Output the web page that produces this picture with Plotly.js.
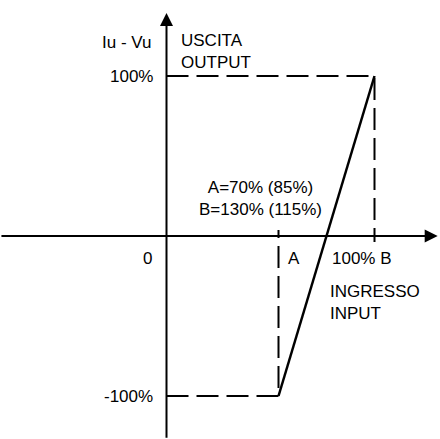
<!DOCTYPE html>
<html>
<head>
<meta charset="utf-8">
<script src="https://cdn.plot.ly/plotly-3.0.1.min.js"></script>
<style>html,body{margin:0;padding:0;background:#fff;}#chart{width:440px;height:439px;}</style>
</head>
<body>
<div id="chart"></div>
<script>
// Data (percent of nominal)
var inputPoints = [70, 130];     // A, B
var outputPoints = [-100, 100];  // output at A, at B
var inputLabels = ["A", "100% B"];
var outputLabels = ["-100%", "100%"];

var A = inputPoints[0], B = inputPoints[1];
var OMIN = outputPoints[0], OMAX = outputPoints[1];
var W = 440, H = 439;
var FONT = "Liberation Sans, Arial, sans-serif";

function px(xp){ return xp / W; }
function py(yp){ return 1 - yp / H; }

var dashStyle = {color: "#000", width: 2, dash: "22px,8px"};

var traces = [
  {x: [0, B, B], y: [OMAX, OMAX, -3.75], mode: "lines", line: dashStyle, hoverinfo: "skip"},
  {x: [0, A, A], y: [OMIN, OMIN, 3.75], mode: "lines", line: dashStyle, hoverinfo: "skip"},
  {x: inputPoints, y: outputPoints, mode: "lines", line: {color: "#000", width: 2.5}, hoverinfo: "skip"}
];

function txt(t, x, y, anchor, align){
  return {text: t, xref: "paper", yref: "paper", x: px(x), y: py(y), xanchor: anchor, yanchor: "middle",
          align: align || "left", borderpad: 0,
          showarrow: false, font: {family: FONT, size: 17, color: "#000"}};
}

var annotations = [
  // axes with arrowheads
  {xref: "x", yref: "y", axref: "x", ayref: "y", x: 0, y: 139.4, ax: 0, ay: -127,
   showarrow: true, arrowhead: 2, arrowsize: 1.3, arrowwidth: 2, arrowcolor: "#000", text: ""},
  {xref: "x", yref: "y", axref: "x", ayref: "y", x: 169.5, y: 0, ax: -104.1, ay: 0,
   showarrow: true, arrowhead: 2, arrowsize: 1.3, arrowwidth: 2, arrowcolor: "#000", text: ""},
  txt("Iu - Vu", 152, 42, "right"),
  txt("USCITA<br>OUTPUT", 180, 51, "left", "left"),
  txt(outputLabels[1], 154, 76, "right"),
  txt(outputLabels[0], 154, 396, "right"),
  txt("A=70% (85%)<br>B=130% (115%)", 260, 198, "center", "center"),
  txt("0", 147, 258, "center"),
  txt(inputLabels[0], 287, 258, "left"),
  txt(inputLabels[1], 331, 258, "left"),
  txt("INGRESSO<br>INPUT", 329, 302, "left", "left")
];

var layout = {
  width: W, height: H,
  margin: {l: 0, r: 0, t: 0, b: 0, pad: 0},
  paper_bgcolor: "#fff", plot_bgcolor: "#fff",
  showlegend: false,
  xaxis: {range: [-104.06, 170.94], visible: false, fixedrange: true},
  yaxis: {range: [-126.875, 147.5], visible: false, fixedrange: true},
  annotations: annotations
};

Plotly.newPlot("chart", traces, layout, {staticPlot: true, displayModeBar: false});
</script>
</body>
</html>
